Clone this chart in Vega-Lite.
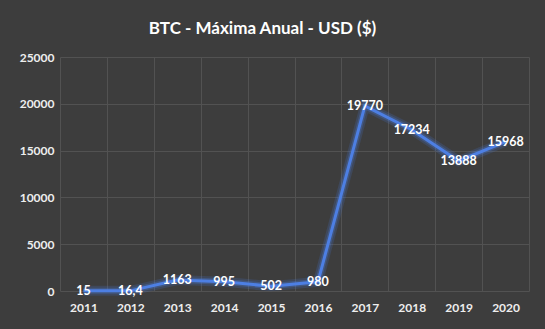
{
  "$schema": "https://vega.github.io/schema/vega-lite/v6.json",
  "width": 469,
  "height": 234,
  "autosize": {"type": "none"},
  "padding": {"left": 60, "top": 57, "right": 16, "bottom": 38},
  "background": "#3d3d3d",
  "title": {
    "text": "BTC - Máxima Anual - USD ($)",
    "font": "Lato",
    "fontSize": 17,
    "fontWeight": "bold",
    "color": "#ffffff",
    "anchor": "middle",
    "frame": "group",
    "dx": -32,
    "offset": 13
  },
  "data": {
    "values": [
      {"year": "2011", "value": 15, "label": "15"},
      {"year": "2012", "value": 16.4, "label": "16,4"},
      {"year": "2013", "value": 1163, "label": "1163"},
      {"year": "2014", "value": 995, "label": "995"},
      {"year": "2015", "value": 502, "label": "502"},
      {"year": "2016", "value": 980, "label": "980"},
      {"year": "2017", "value": 19770, "label": "19770"},
      {"year": "2018", "value": 17234, "label": "17234"},
      {"year": "2019", "value": 13888, "label": "13888"},
      {"year": "2020", "value": 15968, "label": "15968"}
    ]
  },
  "encoding": {
    "x": {
      "field": "year",
      "type": "ordinal",
      "scale": {"type": "band", "paddingInner": 0, "paddingOuter": 0},
      "axis": {
        "title": null,
        "labelAngle": 0,
        "tickBand": "extent",
        "grid": true,
        "gridColor": "#525252",
        "gridWidth": 1,
        "ticks": false,
        "domain": false,
        "labelFont": "Lato",
        "labelFontSize": 12,
        "labelFontWeight": "bold",
        "labelColor": "#eeeeee",
        "labelPadding": 11
      }
    },
    "y": {
      "field": "value",
      "type": "quantitative",
      "scale": {"domain": [0, 25000], "nice": false},
      "axis": {
        "title": null,
        "values": [0, 5000, 10000, 15000, 20000, 25000],
        "format": "d",
        "grid": true,
        "gridColor": "#525252",
        "gridWidth": 1,
        "ticks": false,
        "domain": false,
        "labelFont": "Lato",
        "labelFontSize": 12,
        "labelFontWeight": "bold",
        "labelColor": "#eeeeee",
        "labelPadding": 6
      }
    }
  },
  "layer": [
    {"mark": {"type": "line", "stroke": "#4a7bdc", "strokeWidth": 10, "opacity": 0.18}},
    {"mark": {"type": "line", "stroke": "#4a7bdc", "strokeWidth": 6, "opacity": 0.3}},
    {"mark": {"type": "line", "stroke": "#4d7fe3", "strokeWidth": 3}},
    {
      "mark": {"type": "text", "font": "Lato", "fontSize": 12.5, "fontWeight": "bold", "color": "#ffffff", "baseline": "middle", "align": "center"},
      "encoding": {"text": {"field": "label"}}
    }
  ],
  "config": {"view": {"stroke": null}}
}
